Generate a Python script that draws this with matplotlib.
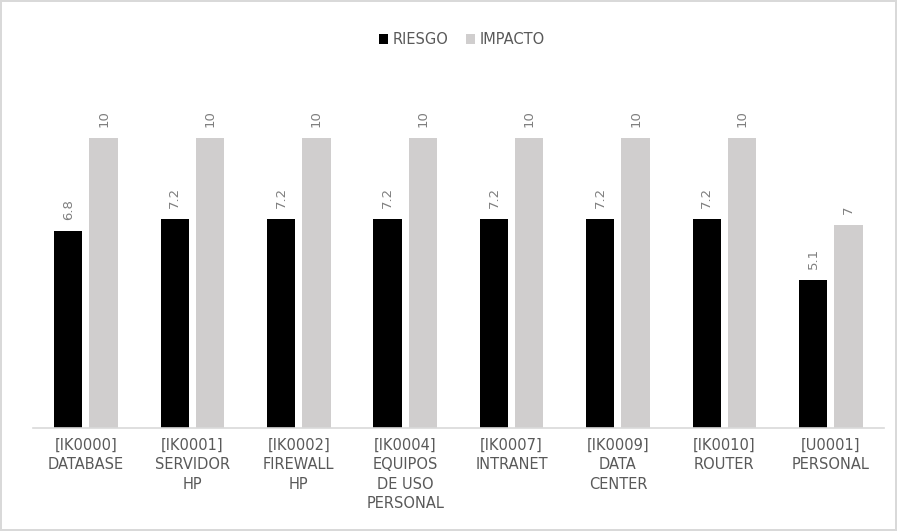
import matplotlib
matplotlib.use("Agg")
import matplotlib.pyplot as plt
import numpy as np

categories = [
    "[IK0000]\nDATABASE",
    "[IK0001]\nSERVIDOR\nHP",
    "[IK0002]\nFIREWALL\nHP",
    "[IK0004]\nEQUIPOS\nDE USO\nPERSONAL",
    "[IK0007]\nINTRANET",
    "[IK0009]\nDATA\nCENTER",
    "[IK0010]\nROUTER",
    "[U0001]\nPERSONAL",
]
riesgo = [6.8, 7.2, 7.2, 7.2, 7.2, 7.2, 7.2, 5.1]
impacto = [10, 10, 10, 10, 10, 10, 10, 7]

C_RIESGO = "#000000"
C_IMPACTO = "#d0cece"
C_TEXT = "#595959"
C_LABEL = "#7f7f7f"

plt.rcParams["font.family"] = ["DejaVu Sans"]

fig = plt.figure(figsize=(8.97, 5.31), dpi=100)
fig.patch.set_edgecolor("#d9d9d9")
fig.patch.set_linewidth(1.5)
ax = fig.add_axes([0.0365, 0.194, 0.949, 0.655])

x = np.arange(len(categories))
w = 0.266
off = 0.166
b1 = ax.bar(x - off, riesgo, w, color=C_RIESGO, label="RIESGO")
b2 = ax.bar(x + off, impacto, w, color=C_IMPACTO, label="IMPACTO")

for bars, vals in ((b1, riesgo), (b2, impacto)):
    for r, v in zip(bars, vals):
        ax.annotate(f"{v:g}", (r.get_x() + r.get_width() / 2, v),
                    xytext=(0, 8), textcoords="offset points",
                    rotation=90, ha="center", va="bottom",
                    fontsize=9.5, color=C_LABEL)

ax.set_xlim(-0.5, len(categories) - 0.5)
ax.set_ylim(0, 12)
ax.set_yticks([])
for s in ("top", "right", "left"):
    ax.spines[s].set_visible(False)
ax.spines["bottom"].set_color("#d9d9d9")
ax.spines["bottom"].set_linewidth(1.2)
ax.set_xticks(x)
ax.set_xticklabels(categories, fontsize=10.5, color=C_TEXT, linespacing=1.38)
ax.tick_params(axis="x", length=0, pad=7)

leg = fig.legend(handles=[b1, b2], loc="center", bbox_to_anchor=(0.515, 0.925),
                 ncol=2, frameon=False, fontsize=10.5, handlelength=0.65,
                 handleheight=0.65, handletextpad=0.3, columnspacing=1.2)
for t in leg.get_texts():
    t.set_color(C_TEXT)

fig.savefig("out.png", dpi=100)
